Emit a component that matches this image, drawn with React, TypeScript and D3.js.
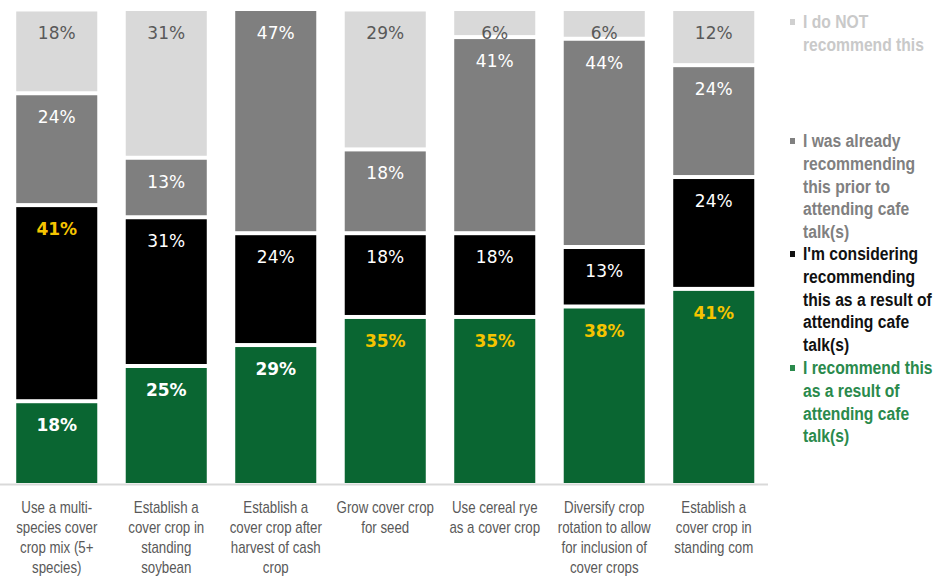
import React from "react";
import * as d3 from "d3";

const categories: string[][] = [
  ["Use a multi-", "species cover", "crop mix (5+", "species)"],
  ["Establish a", "cover crop in", "standing", "soybean"],
  ["Establish a", "cover crop after", "harvest of cash", "crop"],
  ["Grow cover crop", "for seed"],
  ["Use cereal rye", "as a cover crop"],
  ["Diversify crop", "rotation to allow", "for inclusion of", "cover crops"],
  ["Establish a", "cover crop in", "standing com"],
];

// bottom to top
const recommend = [17.6, 25.0, 29.4, 35.3, 35.3, 37.5, 41.2];
const considering = [41.2, 31.25, 23.5, 17.6, 17.6, 12.5, 23.5];
const already = [23.5, 12.5, 47.1, 17.6, 41.2, 43.75, 23.5];
const notRecommend = [17.6, 31.25, 0, 29.4, 5.9, 6.25, 11.8];

const seriesNames = [
  "I recommend this as a result of attending cafe talk(s)",
  "I'm considering recommending this as a result of attending cafe talk(s)",
  "I was already recommending this prior to attending cafe talk(s)",
  "I do NOT recommend this",
];

const legendLines: string[][] = [
  ["I do NOT", "recommend this"],
  ["I was already", "recommending", "this prior to", "attending cafe", "talk(s)"],
  ["I'm considering", "recommending", "this as a result of", "attending cafe", "talk(s)"],
  ["I recommend this", "as a result of", "attending cafe", "talk(s)"],
];

const fills = ["#0a6632", "#000000", "#7f7f7f", "#d9d9d9"];
const legendColors = ["#c9c9c9", "#808080", "#111111", "#2a8a4c"];
const legendMarker = ["#d0d0d0", "#808080", "#111111", "#2a8a4c"];
const legendStartY = [22, 141, 254, 368];

const SANS = "'Liberation Sans', Arial, sans-serif";
const NARROW_SCALE = 0.83;
const LEGEND_SCALE = 0.87;

export default function App() {
  const series = [recommend, considering, already, notRecommend];
  const x = d3
    .scaleBand<number>()
    .domain(d3.range(categories.length))
    .range([2, 768.5])
    .paddingInner(0.26)
    .paddingOuter(0.13);
  const y = d3.scaleLinear().domain([0, 100]).range([485, 9]);

  const rows = categories.map((_, i) => {
    const r: any = { i };
    series.forEach((s, k) => (r["s" + k] = s[i]));
    return r;
  });
  const stack = d3.stack<any>().keys(["s0", "s1", "s2", "s3"]);
  const stacked = stack(rows);

  return (
    <svg
      width={940}
      height={577}
      style={{ position: "absolute", left: 0, top: 0, background: "#fff" }}
    >
      {stacked.map((layer, k) => (
        <g key={k}>
          {layer.map((d, i) => {
            const v = d[1] - d[0];
            if (v <= 0) return null;
            const y0 = y(d[0]);
            const y1 = y(d[1]);
            const top = y1 + 2;
            const h = y0 - y1 - 4;
            const highlight = k < 2 && v >= 33;
            const bold = k === 0 || highlight;
            const color = highlight ? "#f5c400" : k === 3 ? "#595959" : "#ffffff";
            return (
              <g key={i}>
                <rect
                  x={x(i)!}
                  y={top}
                  width={x.bandwidth()}
                  height={h}
                  fill={fills[k]}
                />
                <text
                  x={x(i)! + x.bandwidth() / 2}
                  y={top + 28}
                  textAnchor="middle"
                  fontFamily="'DejaVu Sans', sans-serif"
                  fontSize={17}
                  fontWeight={bold ? "bold" : "normal"}
                  fill={color}
                >
                  {Math.round(v) + "%"}
                </text>
              </g>
            );
          })}
        </g>
      ))}
      <line x1={0} x2={768} y1={484.5} y2={484.5} stroke="#d9d9d9" strokeWidth={2} />
      {categories.map((lines, i) => {
        const cx = x(i)! + x.bandwidth() / 2;
        return (
          <g key={i} transform={`translate(${cx},0) scale(${NARROW_SCALE},1)`}>
            <text textAnchor="middle" fontFamily={SANS} fontSize={16} fill="#595959">
              {lines.map((l, j) => (
                <tspan key={j} x={0} y={513 + j * 20}>
                  {l}
                </tspan>
              ))}
            </text>
          </g>
        );
      })}
      {legendLines.map((lines, idx) => {
        const k = 3 - idx;
        const y0 = legendStartY[idx];
        return (
          <g key={idx} aria-label={seriesNames[k]}>
            <rect x={790} y={y0 - 3} width={5} height={6} fill={legendMarker[idx]} />
            <g transform={`translate(803,0) scale(${LEGEND_SCALE},1)`}>
              <text fontFamily={SANS} fontSize={18} fontWeight="bold" fill={legendColors[idx]}>
                {lines.map((l, j) => (
                  <tspan key={j} x={0} y={y0 + 6 + j * 22.8}>
                    {l}
                  </tspan>
                ))}
              </text>
            </g>
          </g>
        );
      })}
    </svg>
  );
}
